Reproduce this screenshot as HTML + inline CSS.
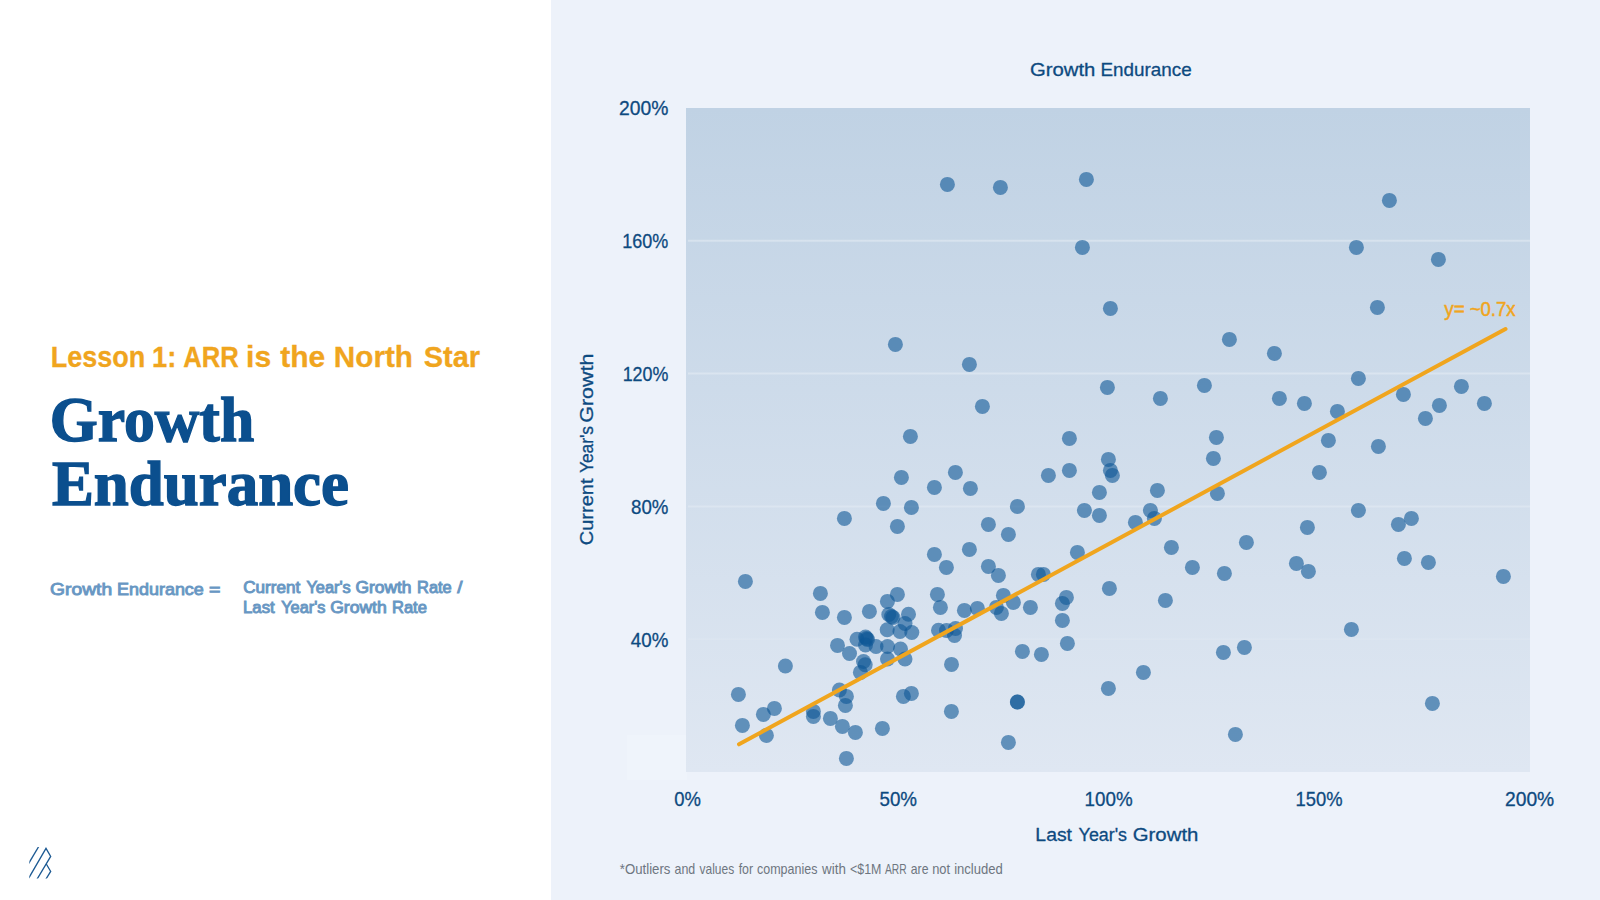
<!DOCTYPE html>
<html lang="en">
<head>
<meta charset="utf-8">
<title>Growth Endurance</title>
<style>
html,body{margin:0;padding:0;}
body{width:1600px;height:900px;overflow:hidden;background:#edf2fa;position:relative;font-family:"Liberation Sans",sans-serif;}
#left{position:absolute;left:0;top:0;width:551px;height:900px;background:#ffffff;}
svg{position:absolute;left:0;top:0;}
text{white-space:pre;}
</style>
</head>
<body>
<div id="left"></div>
<svg width="1600" height="900" viewBox="0 0 1600 900">
<defs>
<linearGradient id="pg" x1="0" y1="0" x2="0" y2="1">
<stop offset="0" stop-color="#c0d2e4"/>
<stop offset="1" stop-color="#dfe7f2"/>
</linearGradient>
<clipPath id="lc"><rect x="29.3" y="847.1" width="23" height="31.4"/></clipPath>
</defs>
<rect x="627" y="735" width="60" height="45" fill="#eff4fb"/>
<rect x="686" y="108" width="844" height="664" fill="url(#pg)"/>
<g stroke="#ffffff" stroke-width="2">
<line x1="688" y1="240.8" x2="1530" y2="240.8" stroke-opacity="0.3"/>
<line x1="688" y1="373.6" x2="1530" y2="373.6" stroke-opacity="0.28"/>
<line x1="688" y1="506.4" x2="1530" y2="506.4" stroke-opacity="0.22"/>
<line x1="688" y1="639.2" x2="1530" y2="639.2" stroke-opacity="0.1"/>
</g>
<g fill="#0e5796" fill-opacity="0.6">
<circle cx="947.4" cy="184.4" r="7.5"/>
<circle cx="1000.4" cy="187.4" r="7.5"/>
<circle cx="1086.4" cy="179.4" r="7.5"/>
<circle cx="1082.4" cy="247.4" r="7.5"/>
<circle cx="1110.4" cy="308.4" r="7.5"/>
<circle cx="1389.4" cy="200.4" r="7.5"/>
<circle cx="1356.4" cy="247.4" r="7.5"/>
<circle cx="1438.4" cy="259.4" r="7.5"/>
<circle cx="1377.4" cy="307.4" r="7.5"/>
<circle cx="895.4" cy="344.4" r="7.5"/>
<circle cx="969.4" cy="364.4" r="7.5"/>
<circle cx="982.4" cy="406.4" r="7.5"/>
<circle cx="910.4" cy="436.4" r="7.5"/>
<circle cx="901.4" cy="477.4" r="7.5"/>
<circle cx="955.4" cy="472.4" r="7.5"/>
<circle cx="934.4" cy="487.4" r="7.5"/>
<circle cx="970.4" cy="488.4" r="7.5"/>
<circle cx="1229.4" cy="339.4" r="7.5"/>
<circle cx="1274.4" cy="353.4" r="7.5"/>
<circle cx="1107.4" cy="387.4" r="7.5"/>
<circle cx="1160.4" cy="398.4" r="7.5"/>
<circle cx="1204.4" cy="385.4" r="7.5"/>
<circle cx="1279.4" cy="398.4" r="7.5"/>
<circle cx="1304.4" cy="403.4" r="7.5"/>
<circle cx="1069.4" cy="438.4" r="7.5"/>
<circle cx="1216.4" cy="437.4" r="7.5"/>
<circle cx="1108.4" cy="459.4" r="7.5"/>
<circle cx="1110.4" cy="470.4" r="7.5"/>
<circle cx="1112.4" cy="475.4" r="7.5"/>
<circle cx="1213.4" cy="458.4" r="7.5"/>
<circle cx="1069.4" cy="470.4" r="7.5"/>
<circle cx="1048.4" cy="475.4" r="7.5"/>
<circle cx="1319.4" cy="472.4" r="7.5"/>
<circle cx="1099.4" cy="492.4" r="7.5"/>
<circle cx="1157.4" cy="490.4" r="7.5"/>
<circle cx="1217.4" cy="493.4" r="7.5"/>
<circle cx="1358.4" cy="378.4" r="7.5"/>
<circle cx="1337.4" cy="411.4" r="7.5"/>
<circle cx="1403.4" cy="394.4" r="7.5"/>
<circle cx="1461.4" cy="386.4" r="7.5"/>
<circle cx="1439.4" cy="405.4" r="7.5"/>
<circle cx="1425.4" cy="418.4" r="7.5"/>
<circle cx="1484.4" cy="403.4" r="7.5"/>
<circle cx="1328.4" cy="440.4" r="7.5"/>
<circle cx="1378.4" cy="446.4" r="7.5"/>
<circle cx="1358.4" cy="510.4" r="7.5"/>
<circle cx="1307.4" cy="527.4" r="7.5"/>
<circle cx="1398.4" cy="524.4" r="7.5"/>
<circle cx="1411.4" cy="518.4" r="7.5"/>
<circle cx="1296.4" cy="563.4" r="7.5"/>
<circle cx="1308.4" cy="571.4" r="7.5"/>
<circle cx="1404.4" cy="558.4" r="7.5"/>
<circle cx="1428.4" cy="562.4" r="7.5"/>
<circle cx="1503.4" cy="576.4" r="7.5"/>
<circle cx="1351.4" cy="629.4" r="7.5"/>
<circle cx="1017.4" cy="506.4" r="7.5"/>
<circle cx="1084.4" cy="510.4" r="7.5"/>
<circle cx="1099.4" cy="515.4" r="7.5"/>
<circle cx="1150.4" cy="510.4" r="7.5"/>
<circle cx="1154.4" cy="518.4" r="7.5"/>
<circle cx="1135.4" cy="522.4" r="7.5"/>
<circle cx="1008.4" cy="534.4" r="7.5"/>
<circle cx="1077.4" cy="552.4" r="7.5"/>
<circle cx="1171.4" cy="547.4" r="7.5"/>
<circle cx="1246.4" cy="542.4" r="7.5"/>
<circle cx="1192.4" cy="567.4" r="7.5"/>
<circle cx="1224.4" cy="573.4" r="7.5"/>
<circle cx="1038.4" cy="574.4" r="7.5"/>
<circle cx="1043.4" cy="574.4" r="7.5"/>
<circle cx="998.4" cy="575.4" r="7.5"/>
<circle cx="1109.4" cy="588.4" r="7.5"/>
<circle cx="1066.4" cy="597.4" r="7.5"/>
<circle cx="1062.4" cy="603.4" r="7.5"/>
<circle cx="1165.4" cy="600.4" r="7.5"/>
<circle cx="1003.4" cy="595.4" r="7.5"/>
<circle cx="1013.4" cy="602.4" r="7.5"/>
<circle cx="1030.4" cy="607.4" r="7.5"/>
<circle cx="1001.4" cy="613.4" r="7.5"/>
<circle cx="996.4" cy="607.4" r="7.5"/>
<circle cx="1062.4" cy="620.4" r="7.5"/>
<circle cx="1067.4" cy="643.4" r="7.5"/>
<circle cx="1022.4" cy="651.4" r="7.5"/>
<circle cx="1041.4" cy="654.4" r="7.5"/>
<circle cx="1223.4" cy="652.4" r="7.5"/>
<circle cx="1244.4" cy="647.4" r="7.5"/>
<circle cx="1143.4" cy="672.4" r="7.5"/>
<circle cx="883.4" cy="503.4" r="7.5"/>
<circle cx="911.4" cy="507.4" r="7.5"/>
<circle cx="844.4" cy="518.4" r="7.5"/>
<circle cx="897.4" cy="526.4" r="7.5"/>
<circle cx="988.4" cy="524.4" r="7.5"/>
<circle cx="969.4" cy="549.4" r="7.5"/>
<circle cx="934.4" cy="554.4" r="7.5"/>
<circle cx="946.4" cy="567.4" r="7.5"/>
<circle cx="988.4" cy="566.4" r="7.5"/>
<circle cx="745.4" cy="581.4" r="7.5"/>
<circle cx="820.4" cy="593.4" r="7.5"/>
<circle cx="822.4" cy="612.4" r="7.5"/>
<circle cx="844.4" cy="617.4" r="7.5"/>
<circle cx="869.4" cy="611.4" r="7.5"/>
<circle cx="897.4" cy="594.4" r="7.5"/>
<circle cx="887.4" cy="601.4" r="7.5"/>
<circle cx="937.4" cy="594.4" r="7.5"/>
<circle cx="940.4" cy="607.4" r="7.5"/>
<circle cx="964.4" cy="610.4" r="7.5"/>
<circle cx="977.4" cy="608.4" r="7.5"/>
<circle cx="908.5" cy="614.2" r="7.5"/>
<circle cx="888.8" cy="614.5" r="7.5"/>
<circle cx="891.5" cy="616.5" r="7.5"/>
<circle cx="893.0" cy="617.5" r="7.5"/>
<circle cx="905.0" cy="623.5" r="7.5"/>
<circle cx="887.2" cy="629.7" r="7.5"/>
<circle cx="900.0" cy="631.5" r="7.5"/>
<circle cx="911.8" cy="632.5" r="7.5"/>
<circle cx="938.5" cy="630.2" r="7.5"/>
<circle cx="946.5" cy="630.5" r="7.5"/>
<circle cx="955.5" cy="628.5" r="7.5"/>
<circle cx="954.5" cy="635.5" r="7.5"/>
<circle cx="857.0" cy="639.2" r="7.5"/>
<circle cx="865.5" cy="637.0" r="7.5"/>
<circle cx="866.5" cy="638.5" r="7.5"/>
<circle cx="867.5" cy="639.5" r="7.5"/>
<circle cx="865.5" cy="645.0" r="7.5"/>
<circle cx="876.0" cy="646.5" r="7.5"/>
<circle cx="887.5" cy="646.5" r="7.5"/>
<circle cx="900.5" cy="649.0" r="7.5"/>
<circle cx="849.5" cy="653.5" r="7.5"/>
<circle cx="837.5" cy="645.4" r="7.5"/>
<circle cx="887.5" cy="659.0" r="7.5"/>
<circle cx="905.0" cy="659.0" r="7.5"/>
<circle cx="863.5" cy="661.5" r="7.5"/>
<circle cx="865.2" cy="664.8" r="7.5"/>
<circle cx="951.5" cy="664.4" r="7.5"/>
<circle cx="860.4" cy="672.4" r="7.5"/>
<circle cx="785.4" cy="666.0" r="7.5"/>
<circle cx="738.4" cy="694.4" r="7.5"/>
<circle cx="774.4" cy="708.4" r="7.5"/>
<circle cx="763.4" cy="714.4" r="7.5"/>
<circle cx="742.4" cy="725.4" r="7.5"/>
<circle cx="766.4" cy="735.4" r="7.5"/>
<circle cx="813.4" cy="711.4" r="7.5"/>
<circle cx="813.4" cy="716.4" r="7.5"/>
<circle cx="830.4" cy="718.4" r="7.5"/>
<circle cx="842.4" cy="726.4" r="7.5"/>
<circle cx="855.4" cy="732.4" r="7.5"/>
<circle cx="882.4" cy="728.4" r="7.5"/>
<circle cx="839.4" cy="690.0" r="7.5"/>
<circle cx="846.4" cy="696.4" r="7.5"/>
<circle cx="845.4" cy="705.4" r="7.5"/>
<circle cx="846.4" cy="758.4" r="7.5"/>
<circle cx="903.4" cy="696.4" r="7.5"/>
<circle cx="911.4" cy="693.4" r="7.5"/>
<circle cx="951.4" cy="711.4" r="7.5"/>
<circle cx="1008.4" cy="742.4" r="7.5"/>
<circle cx="1108.4" cy="688.4" r="7.5"/>
<circle cx="1017.4" cy="702.0" r="7.5"/>
<circle cx="1017.4" cy="702.0" r="7.5"/>
<circle cx="1235.4" cy="734.4" r="7.5"/>
<circle cx="1432.4" cy="703.4" r="7.5"/>
</g>
<line x1="739" y1="744.3" x2="1505.5" y2="329" stroke="#f0a51e" stroke-width="4" stroke-linecap="round"/>
<g fill="none" stroke="#1d5a93" stroke-width="1.3" stroke-linecap="butt" stroke-linejoin="miter" clip-path="url(#lc)">
<path d="M39.5 845.2 L28.2 864.2"/>
<path d="M28.2 879 L46 848.4 L50.7 856.4 L36.2 880.6"/>
<path d="M46.3 864 L50.7 871.4 L45 880.6"/>
</g>
<g id="labels">
<text transform="translate(50.81 367.20) scale(0.9149 1)" font-family="'Liberation Sans', sans-serif" font-size="29.5" font-weight="bold" fill="#f0a51e" stroke="#f0a51e" stroke-width="0.3">Lesson</text>
<text transform="translate(151.99 367.20) scale(0.9253 1)" font-family="'Liberation Sans', sans-serif" font-size="29.5" font-weight="bold" fill="#f0a51e" stroke="#f0a51e" stroke-width="0.3">1:</text>
<text transform="translate(183.30 367.20) scale(0.8698 1)" font-family="'Liberation Sans', sans-serif" font-size="29.5" font-weight="bold" fill="#f0a51e" stroke="#f0a51e" stroke-width="0.3">ARR</text>
<text transform="translate(246.12 367.20) scale(1.0203 1)" font-family="'Liberation Sans', sans-serif" font-size="29.5" font-weight="bold" fill="#f0a51e" stroke="#f0a51e" stroke-width="0.3">is</text>
<text transform="translate(280.20 367.20) scale(1.0180 1)" font-family="'Liberation Sans', sans-serif" font-size="29.5" font-weight="bold" fill="#f0a51e" stroke="#f0a51e" stroke-width="0.3">the</text>
<text transform="translate(333.85 367.20) scale(1.0056 1)" font-family="'Liberation Sans', sans-serif" font-size="29.5" font-weight="bold" fill="#f0a51e" stroke="#f0a51e" stroke-width="0.3">North</text>
<text transform="translate(423.75 367.20) scale(0.9822 1)" font-family="'Liberation Sans', sans-serif" font-size="29.5" font-weight="bold" fill="#f0a51e" stroke="#f0a51e" stroke-width="0.3">Star</text>
<text transform="translate(49.81 441.20) scale(0.9637 1)" font-family="'Liberation Serif', serif" font-size="64" font-weight="bold" fill="#0b4f8e" stroke="#0b4f8e" stroke-width="1.4">Growth</text>
<text transform="translate(51.92 504.60) scale(0.9827 1)" font-family="'Liberation Serif', serif" font-size="64" font-weight="bold" fill="#0b4f8e" stroke="#0b4f8e" stroke-width="1.4">Endurance</text>
<text transform="translate(50.11 594.50) scale(1.1069 1)" font-family="'Liberation Sans', sans-serif" font-size="17.4" font-weight="normal" fill="#6897c3" stroke="#6897c3" stroke-width="0.9">Growth</text>
<text transform="translate(117.06 594.50) scale(1.0319 1)" font-family="'Liberation Sans', sans-serif" font-size="17.4" font-weight="normal" fill="#6897c3" stroke="#6897c3" stroke-width="0.9">Endurance</text>
<text transform="translate(209.10 594.50) scale(1.1279 1)" font-family="'Liberation Sans', sans-serif" font-size="17.4" font-weight="normal" fill="#6897c3" stroke="#6897c3" stroke-width="0.9">=</text>
<text transform="translate(243.23 593.20) scale(1.0959 1)" font-family="'Liberation Sans', sans-serif" font-size="15.6" font-weight="normal" fill="#6897c3" stroke="#6897c3" stroke-width="0.9">Current</text>
<text transform="translate(306.39 593.20) scale(1.0482 1)" font-family="'Liberation Sans', sans-serif" font-size="15.6" font-weight="normal" fill="#6897c3" stroke="#6897c3" stroke-width="0.9">Year's</text>
<text transform="translate(355.42 593.20) scale(1.1172 1)" font-family="'Liberation Sans', sans-serif" font-size="15.6" font-weight="normal" fill="#6897c3" stroke="#6897c3" stroke-width="0.9">Growth</text>
<text transform="translate(417.04 593.20) scale(1.0523 1)" font-family="'Liberation Sans', sans-serif" font-size="15.6" font-weight="normal" fill="#6897c3" stroke="#6897c3" stroke-width="0.9">Rate</text>
<text transform="translate(457.21 593.20) scale(1.2000 1)" font-family="'Liberation Sans', sans-serif" font-size="15.6" font-weight="normal" fill="#6897c3" stroke="#6897c3" stroke-width="0.9">/</text>
<text transform="translate(243.01 613.40) scale(1.0760 1)" font-family="'Liberation Sans', sans-serif" font-size="15.6" font-weight="normal" fill="#6897c3" stroke="#6897c3" stroke-width="0.9">Last</text>
<text transform="translate(281.19 613.40) scale(1.0482 1)" font-family="'Liberation Sans', sans-serif" font-size="15.6" font-weight="normal" fill="#6897c3" stroke="#6897c3" stroke-width="0.9">Year's</text>
<text transform="translate(330.21 613.40) scale(1.1254 1)" font-family="'Liberation Sans', sans-serif" font-size="15.6" font-weight="normal" fill="#6897c3" stroke="#6897c3" stroke-width="0.9">Growth</text>
<text transform="translate(391.93 613.40) scale(1.0619 1)" font-family="'Liberation Sans', sans-serif" font-size="15.6" font-weight="normal" fill="#6897c3" stroke="#6897c3" stroke-width="0.9">Rate</text>
<text transform="translate(1029.94 76.10) scale(1.0697 1)" font-family="'Liberation Sans', sans-serif" font-size="19" font-weight="normal" fill="#0d4a80" stroke="#0d4a80" stroke-width="0.3">Growth</text>
<text transform="translate(1100.51 76.10) scale(0.9929 1)" font-family="'Liberation Sans', sans-serif" font-size="19" font-weight="normal" fill="#0d4a80" stroke="#0d4a80" stroke-width="0.3">Endurance</text>
<text transform="translate(1035.37 841.25) scale(1.0194 1)" font-family="'Liberation Sans', sans-serif" font-size="19" font-weight="normal" fill="#0d4a80" stroke="#0d4a80" stroke-width="0.3">Last</text>
<text transform="translate(1078.62 841.25) scale(0.9403 1)" font-family="'Liberation Sans', sans-serif" font-size="19" font-weight="normal" fill="#0d4a80" stroke="#0d4a80" stroke-width="0.3">Year's</text>
<text transform="translate(1132.73 841.25) scale(1.0731 1)" font-family="'Liberation Sans', sans-serif" font-size="19" font-weight="normal" fill="#0d4a80" stroke="#0d4a80" stroke-width="0.3">Growth</text>
<text transform="translate(674.25 805.70) scale(0.9229 1)" font-family="'Liberation Sans', sans-serif" font-size="20" font-weight="normal" fill="#0d4a80" stroke="#0d4a80" stroke-width="0.3">0%</text>
<text transform="translate(879.45 805.70) scale(0.9391 1)" font-family="'Liberation Sans', sans-serif" font-size="20" font-weight="normal" fill="#0d4a80" stroke="#0d4a80" stroke-width="0.3">50%</text>
<text transform="translate(1084.59 805.70) scale(0.9394 1)" font-family="'Liberation Sans', sans-serif" font-size="20" font-weight="normal" fill="#0d4a80" stroke="#0d4a80" stroke-width="0.3">100%</text>
<text transform="translate(1295.62 805.70) scale(0.9189 1)" font-family="'Liberation Sans', sans-serif" font-size="20" font-weight="normal" fill="#0d4a80" stroke="#0d4a80" stroke-width="0.3">150%</text>
<text transform="translate(1505.04 805.70) scale(0.9622 1)" font-family="'Liberation Sans', sans-serif" font-size="20" font-weight="normal" fill="#0d4a80" stroke="#0d4a80" stroke-width="0.3">200%</text>
<text transform="translate(619.03 114.60) scale(0.9652 1)" font-family="'Liberation Sans', sans-serif" font-size="20" font-weight="normal" fill="#0d4a80" stroke="#0d4a80" stroke-width="0.3">200%</text>
<text transform="translate(622.35 247.70) scale(0.8995 1)" font-family="'Liberation Sans', sans-serif" font-size="20" font-weight="normal" fill="#0d4a80" stroke="#0d4a80" stroke-width="0.3">160%</text>
<text transform="translate(622.66 380.70) scale(0.8934 1)" font-family="'Liberation Sans', sans-serif" font-size="20" font-weight="normal" fill="#0d4a80" stroke="#0d4a80" stroke-width="0.3">120%</text>
<text transform="translate(631.00 513.80) scale(0.9339 1)" font-family="'Liberation Sans', sans-serif" font-size="20" font-weight="normal" fill="#0d4a80" stroke="#0d4a80" stroke-width="0.3">80%</text>
<text transform="translate(630.82 646.90) scale(0.9385 1)" font-family="'Liberation Sans', sans-serif" font-size="20" font-weight="normal" fill="#0d4a80" stroke="#0d4a80" stroke-width="0.3">40%</text>
<text transform="translate(1444.30 315.90) scale(0.9728 1)" font-family="'Liberation Sans', sans-serif" font-size="19.5" font-weight="normal" fill="#f0a51e" stroke="#f0a51e" stroke-width="0.5">y=</text>
<text transform="translate(1469.64 315.90) scale(0.9515 1)" font-family="'Liberation Sans', sans-serif" font-size="19.5" font-weight="normal" fill="#f0a51e" stroke="#f0a51e" stroke-width="0.5">~0.7x</text>
<text transform="translate(619.81 874.40) scale(0.9437 1)" font-family="'Liberation Sans', sans-serif" font-size="14" font-weight="normal" fill="#6e7680">*Outliers</text>
<text transform="translate(674.56 874.40) scale(0.8875 1)" font-family="'Liberation Sans', sans-serif" font-size="14" font-weight="normal" fill="#6e7680">and</text>
<text transform="translate(699.50 874.40) scale(0.8569 1)" font-family="'Liberation Sans', sans-serif" font-size="14" font-weight="normal" fill="#6e7680">values</text>
<text transform="translate(738.66 874.40) scale(0.8864 1)" font-family="'Liberation Sans', sans-serif" font-size="14" font-weight="normal" fill="#6e7680">for</text>
<text transform="translate(757.05 874.40) scale(0.8920 1)" font-family="'Liberation Sans', sans-serif" font-size="14" font-weight="normal" fill="#6e7680">companies</text>
<text transform="translate(822.10 874.40) scale(0.9539 1)" font-family="'Liberation Sans', sans-serif" font-size="14" font-weight="normal" fill="#6e7680">with</text>
<text transform="translate(849.97 874.40) scale(0.8889 1)" font-family="'Liberation Sans', sans-serif" font-size="14" font-weight="normal" fill="#6e7680">&lt;$1M</text>
<text transform="translate(885.00 874.40) scale(0.7341 1)" font-family="'Liberation Sans', sans-serif" font-size="14" font-weight="normal" fill="#6e7680">ARR</text>
<text transform="translate(910.81 874.40) scale(0.8748 1)" font-family="'Liberation Sans', sans-serif" font-size="14" font-weight="normal" fill="#6e7680">are</text>
<text transform="translate(932.17 874.40) scale(0.9203 1)" font-family="'Liberation Sans', sans-serif" font-size="14" font-weight="normal" fill="#6e7680">not</text>
<text transform="translate(954.16 874.40) scale(0.9332 1)" font-family="'Liberation Sans', sans-serif" font-size="14" font-weight="normal" fill="#6e7680">included</text>
<text transform="translate(593.00 545.24) rotate(-90) scale(1.0447 1)" font-family="'Liberation Sans', sans-serif" font-size="19.2" fill="#0d4a80" stroke="#0d4a80" stroke-width="0.3">Current</text>
<text transform="translate(593.00 473.06) rotate(-90) scale(0.9048 1)" font-family="'Liberation Sans', sans-serif" font-size="19.2" fill="#0d4a80" stroke="#0d4a80" stroke-width="0.3">Year's</text>
<text transform="translate(593.00 422.70) rotate(-90) scale(1.1153 1)" font-family="'Liberation Sans', sans-serif" font-size="19.2" fill="#0d4a80" stroke="#0d4a80" stroke-width="0.3">Growth</text>
</g>
</svg>
</body>
</html>
